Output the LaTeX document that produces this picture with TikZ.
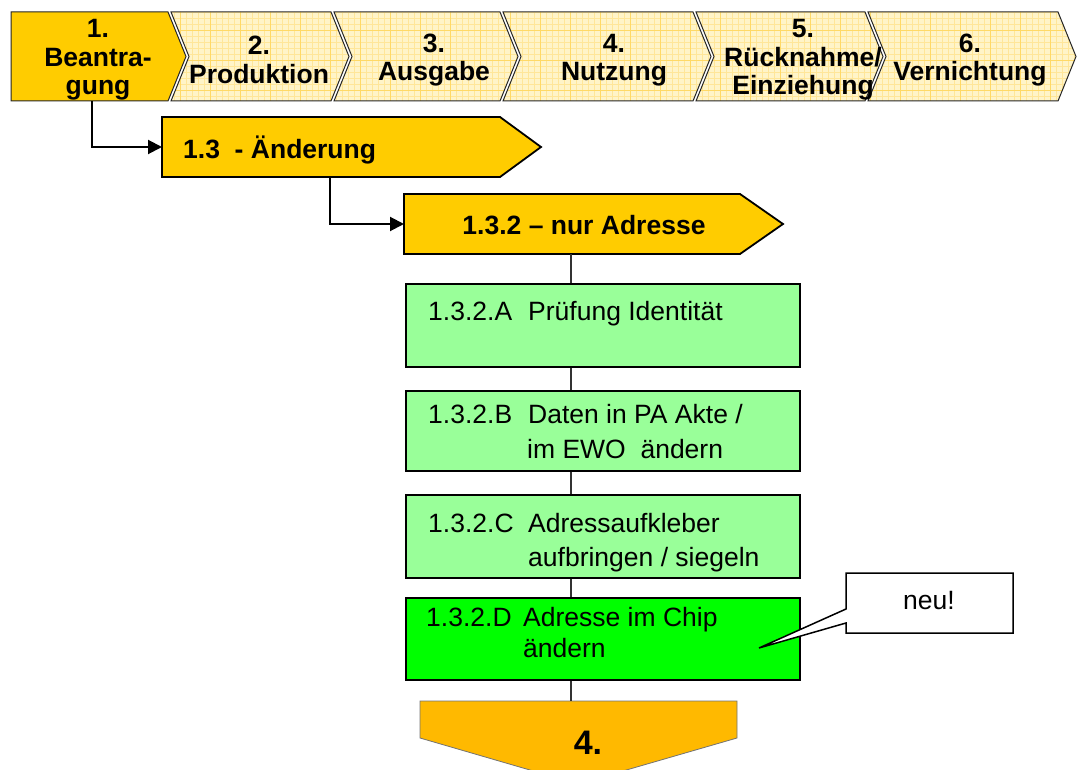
\documentclass[tikz,border=0pt]{standalone}
\usepackage{fontspec}
\setmainfont{Liberation Sans}
\usetikzlibrary{calc,arrows.meta}
\definecolor{gold}{HTML}{FFCC00}
\definecolor{paleyellow}{HTML}{FFF4C8}
\definecolor{gridfine}{HTML}{FFE699}
\definecolor{gridmajor}{HTML}{FFD966}
\definecolor{lightgreen}{HTML}{99FF99}
\definecolor{brightgreen}{HTML}{00FF00}
\definecolor{amber}{HTML}{FFB900}
\begin{document}
\begin{tikzpicture}[x=1pt,y=-1pt,
  headtext/.style={align=center,font=\fontsize{26.5}{28.5}\selectfont\bfseries,inner sep=0pt},
  phasebox/.style={fill=gold,draw=black,line width=1.8pt,line join=miter},
  steptext/.style={font=\fontsize{26.5}{30}\selectfont\bfseries,inner sep=0pt},
  taskbox/.style={draw=black,line width=1.6pt,minimum width=394pt,minimum height=#1,inner sep=0pt,anchor=north west},
  tasktext/.style={font=\fontsize{26.5}{30}\selectfont,inner sep=0pt,anchor=base west},
  spine/.style={draw=black!80,line width=1.3pt},
  link/.style={draw=black,line width=2pt,-{Triangle[length=14pt,width=14pt]}},
]
\useasboundingbox (0,0) rectangle (1077,770);

% ---- process header: six chevrons ----
% chevron 1 (active)
\fill[gold] (11,12) -- (168,12) -- (186,56.5) -- (168,101) -- (11,101) -- cycle;
\draw[black!85,line width=1pt] (11,12) -- (168,12) -- (186,56.5) -- (168,101) -- (11,101) -- cycle;
% chevrons 2..6 with gridded pale fill
\foreach \lx/\rx in {171/331, 334/500, 503/693, 696/865, 868/1058}{
  \begin{scope}
    \clip (\lx,12) -- (\rx,12) -- (\rx+18,56.5) -- (\rx,101) -- (\lx,101) -- (\lx+18,56.5) -- cycle;
    \fill[paleyellow] (\lx,12) rectangle (\rx+18,101);
    \draw[gridfine,line width=0.35pt,step=6pt] (\lx,102) grid (\rx+18,0);
    \draw[gridmajor,line width=0.5pt,step=30pt] (\lx,102) grid (\rx+18,0);
  \end{scope}
  \draw[black!85,line width=1pt,line join=miter] (\lx,12) -- (\rx,12) -- (\rx+18,56.5) -- (\rx,101) -- (\lx,101) -- (\lx+18,56.5) -- cycle;
}
\node[headtext] (h1) at (98,60) {1.\\Beantra-\\gung};
\node[headtext] (h2) at (259,60) {2.\\Produktion};
\node[headtext] (h3) at (434,60) {3.\\Ausgabe};
\node[headtext] (h4) at (614,60) {4.\\Nutzung};
\node[headtext] (h5) at (803,60) {5.\\Rücknahme/\\Einziehung};
\node[headtext] (h6) at (970,60) {6.\\Vernichtung};
\coordinate (h1out) at (92,101);

% ---- sub-phase 1.3 ----
\path[phasebox] (162,117) -- (500,117) -- (541,147) -- (500,177) -- (162,177) -- cycle;
\node[steptext,anchor=base west] (s13) at (183,159) {1.3\ \ - Änderung};
\coordinate (s13in) at (162,147);
\coordinate (s13out) at (330,177);

% ---- sub-phase 1.3.2 ----
\path[phasebox] (404,194) -- (740,194) -- (783,224) -- (740,254) -- (404,254) -- cycle;
\node[steptext,anchor=base] (s132) at (584,235) {1.3.2 – nur Adresse};
\coordinate (s132in) at (404,224);
\coordinate (s132out) at (571,254);

\draw[link] (h1out) |- (s13in);
\draw[link] (s13out) |- (s132in);

% ---- task boxes ----
\coordinate (sp) at (571,0);
\node[taskbox=83pt,fill=lightgreen] (ta) at (405,283) {};
\node[taskbox=80pt,fill=lightgreen] (tb) at (405,390) {};
\node[taskbox=83pt,fill=lightgreen] (tc) at (405,494) {};
\node[taskbox=82pt,fill=brightgreen] (td) at (405,597) {};

\node[tasktext] (ta1) at (428,320) {1.3.2.A};
\node[tasktext] (ta2) at (528,320) {Prüfung Identität};
\node[tasktext] (tb1) at (428,423) {1.3.2.B};
\node[tasktext] (tb2) at (528,423) {Daten in PA Akte /};
\node[tasktext] (tb3) at (527,458) {im EWO\ \ ändern};
\node[tasktext] (tc1) at (428,532) {1.3.2.C};
\node[tasktext] (tc2) at (528,532) {Adressaufkleber};
\node[tasktext] (tc3) at (528,566) {aufbringen / siegeln};
\node[tasktext] (td1) at (426,626) {1.3.2.D};
\node[tasktext] (td2) at (523,626) {Adresse im Chip};
\node[tasktext] (td3) at (523,657) {ändern};

% ---- hand-over to phase 4 ----
\path[fill=amber,draw=black!55,line width=0.8pt] (420,701) -- (737,701) -- (737,738) -- (578,784) -- (420,738) -- cycle;
\node[font=\fontsize{34}{34}\selectfont\bfseries,inner sep=0pt,anchor=base] (p4) at (588,754) {4.};
\coordinate (p4in) at (571,701);

% ---- spine connecting the steps ----
\draw[spine] (s132out) -- (ta.north -| sp);
\draw[spine] (ta.south -| sp) -- (tb.north -| sp);
\draw[spine] (tb.south -| sp) -- (tc.north -| sp);
\draw[spine] (tc.south -| sp) -- (td.north -| sp);
\draw[spine] (td.south -| sp) -- (p4in);

% ---- callout ----
\path[fill=white,draw=black,line width=1.5pt,line join=miter]
  (846,573) -- (1013,573) -- (1013,633) -- (846,633) -- (846,623) -- (759,648) -- (846,609) -- cycle;
\node[font=\fontsize{26.5}{30}\selectfont,inner sep=0pt,anchor=base] (neu) at (929,609) {neu!};
\end{tikzpicture}
\end{document}
